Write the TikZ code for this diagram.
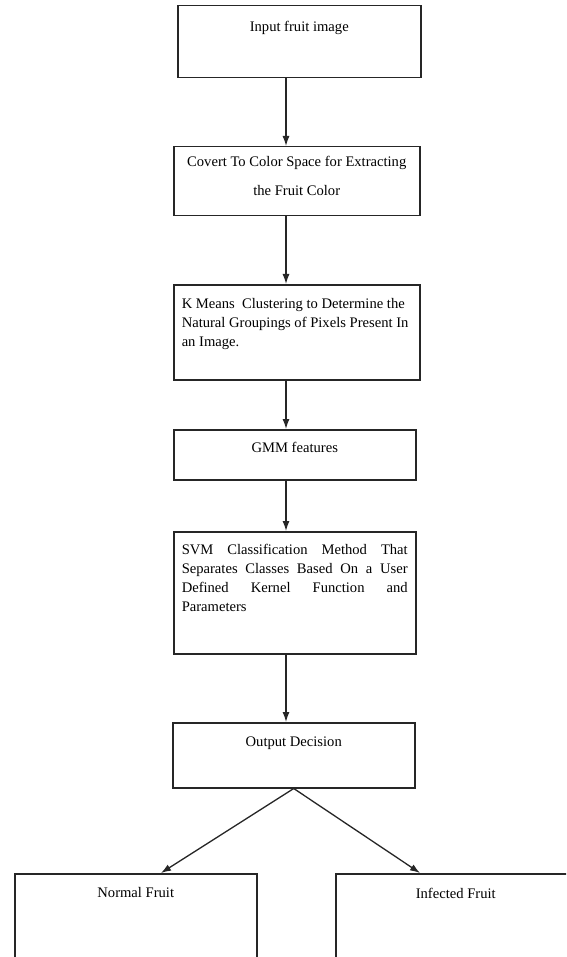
\documentclass[tikz,border=0pt]{standalone}
\usepackage{fontspec}
\setmainfont{Liberation Serif}
\usetikzlibrary{arrows.meta}
\newcommand{\bxt}[4]{\parbox[c][#2][t]{#1}{\vspace*{#3}#4}}
\begin{document}
\begin{tikzpicture}[x=1pt,y=1pt,
  every node/.style={font=\fontsize{14.6}{19}\selectfont},
  flowbox/.style={draw=black!85, line width=1.5pt, inner sep=0pt, anchor=north west},
  arr/.style={draw=black!85, line width=1.3pt, -{Latex[length=10pt,width=7pt]}}]
\clip (0,0) rectangle (566,-957);
\fill[white] (0,0) rectangle (566,-957);
% boxes
\node[flowbox] (b1) at (177,-5) {\bxt{243pt}{72pt}{15pt}{\centering Input fruit image}};
\node[flowbox] (b2) at (173,-146) {\bxt{246pt}{69pt}{9pt}{\centering Covert To Color Space for Extracting\\[10pt] the Fruit Color}};
\node[flowbox] (b3) at (173,-284) {\bxt{246pt}{95pt}{14pt}{\hspace*{8pt}\parbox[t]{232pt}{\raggedright K Means\ \ Clustering to Determine the\\ Natural Groupings of Pixels Present In\\ an Image.}}};
\node[flowbox] (b4) at (173,-429) {\bxt{242pt}{50pt}{12pt}{\centering GMM features}};
\node[flowbox] (b5) at (173,-531) {\bxt{242pt}{122pt}{12pt}{\hspace*{8pt}\parbox[t]{226pt}{%
\hbox to 226pt{SVM\hfill Classification\hfill Method\hfill That}
\hbox to 226pt{Separates\hfill Classes\hfill Based\hfill On\hfill a\hfill User}
\hbox to 226pt{Defined\hfill Kernel\hfill Function\hfill and}
\hbox to 226pt{Parameters\hfill}}}};
\node[flowbox] (b6) at (172,-722) {\bxt{242pt}{65pt}{14pt}{\centering Output Decision}};
\node[flowbox] (b7) at (14,-873) {\bxt{242pt}{100pt}{14pt}{\centering Normal Fruit}};
\node[flowbox] (b8) at (335,-873) {\bxt{240pt}{100pt}{14pt}{\centering Infected Fruit}};
% connector x positions
\coordinate (ax) at (286,0);
\coordinate (nx) at (161,0);
\coordinate (ix) at (420,0);
\draw[arr] (b1.south -| ax) -- (b2.north -| ax);
\draw[arr] (b2.south -| ax) -- (b3.north -| ax);
\draw[arr] (b3.south -| ax) -- (b4.north -| ax);
\draw[arr] (b4.south -| ax) -- (b5.north -| ax);
\draw[arr] (b5.south -| ax) -- (b6.north -| ax);
\draw[arr] (b6.south) -- (b7.north -| nx);
\draw[arr] (b6.south) -- (b8.north -| ix);
\end{tikzpicture}
\end{document}
